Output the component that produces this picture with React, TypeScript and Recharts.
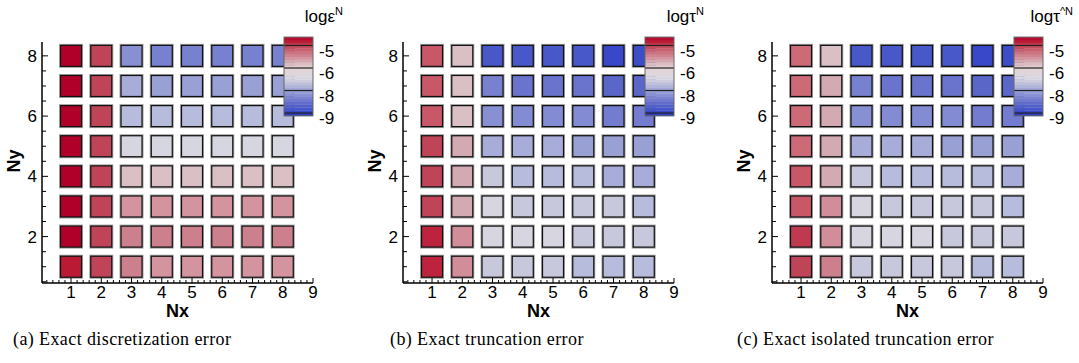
import { Scatter, ScatterChart, XAxis, YAxis } from "recharts";

const nxValues = [1, 2, 3, 4, 5, 6, 7, 8];
const nyValues = [1, 2, 3, 4, 5, 6, 7, 8];

// log10 error per cell; one row per Ny (Ny = 1 first), one entry per Nx
const discretizationError = [
  [-4.8, -5.0, -5.4, -5.55, -5.55, -5.55, -5.55, -5.55],
  [-4.6, -5.0, -5.4, -5.4, -5.4, -5.4, -5.4, -5.4],
  [-4.6, -5.0, -5.55, -5.55, -5.55, -5.55, -5.55, -5.55],
  [-4.6, -5.0, -5.85, -5.85, -5.85, -5.85, -5.85, -5.85],
  [-4.6, -5.0, -7.0, -7.0, -7.0, -7.0, -7.0, -7.0],
  [-4.6, -5.0, -7.5, -7.5, -7.5, -7.5, -7.5, -7.5],
  [-4.6, -5.0, -7.8, -8.0, -8.0, -8.0, -8.0, -8.0],
  [-4.6, -5.0, -8.2, -8.35, -8.35, -8.35, -8.35, -8.35],
];

const truncationError = [
  [-4.85, -5.5, -7.2, -7.2, -7.2, -7.5, -7.5, -7.5],
  [-4.85, -5.5, -6.95, -6.95, -6.95, -7.2, -7.2, -7.2],
  [-5.0, -5.7, -6.95, -7.2, -7.2, -7.2, -7.2, -7.5],
  [-5.0, -5.7, -7.2, -7.5, -7.5, -7.5, -7.8, -7.8],
  [-5.0, -5.7, -7.8, -7.8, -7.8, -8.0, -8.0, -8.0],
  [-5.15, -5.85, -8.2, -8.25, -8.25, -8.25, -8.4, -8.4],
  [-5.15, -5.85, -8.35, -8.5, -8.5, -8.5, -8.6, -8.6],
  [-5.15, -5.85, -8.8, -8.8, -8.8, -8.8, -8.95, -8.9],
];

const isolatedTruncationError = [
  [-5.0, -5.4, -7.2, -7.2, -7.2, -7.2, -7.5, -7.5],
  [-4.95, -5.5, -6.95, -6.95, -6.95, -7.2, -7.2, -7.2],
  [-5.15, -5.5, -6.95, -7.2, -7.2, -7.2, -7.2, -7.5],
  [-5.15, -5.7, -7.2, -7.5, -7.5, -7.5, -7.5, -7.8],
  [-5.25, -5.7, -7.8, -7.8, -7.8, -8.0, -8.0, -8.0],
  [-5.25, -5.7, -8.2, -8.25, -8.25, -8.25, -8.4, -8.4],
  [-5.25, -5.7, -8.35, -8.5, -8.5, -8.5, -8.6, -8.6],
  [-5.25, -5.85, -8.8, -8.8, -8.8, -8.8, -8.95, -8.9],
];

const xTickLabels = [1, 2, 3, 4, 5, 6, 7, 8, 9];
const yTickLabels = [2, 4, 6, 8];
const legendLevels = [-5, -6, -8, -9];

// diverging blue-white-red map, keyed by log value
const colorStops: [number, string][] = [
  [-9.2, "#2232b8"],
  [-8.95, "#3848c8"],
  [-8.8, "#4858c8"],
  [-8.6, "#5a66c8"],
  [-8.5, "#6a74cc"],
  [-8.35, "#7880d0"],
  [-8.2, "#8890d4"],
  [-8.0, "#98a0d4"],
  [-7.8, "#a8acd8"],
  [-7.5, "#b8bcdc"],
  [-7.2, "#c8c8dc"],
  [-7.0, "#d6d6e0"],
  [-6.0, "#e4d4d6"],
  [-5.85, "#dac0c5"],
  [-5.7, "#d4aab2"],
  [-5.55, "#d4949f"],
  [-5.4, "#cc7f8c"],
  [-5.25, "#cc6a78"],
  [-5.15, "#c85868"],
  [-5.0, "#c04458"],
  [-4.8, "#bb1a35"],
  [-4.6, "#b0002a"],
];

function hexToRgb(h: string) {
  return [1, 3, 5].map((i) => parseInt(h.slice(i, i + 2), 16));
}

function colorFor(v: number): string {
  if (v <= colorStops[0][0]) return colorStops[0][1];
  for (let i = 1; i < colorStops.length; i++) {
    const [v1, c1] = colorStops[i];
    if (v <= v1) {
      const [v0, c0] = colorStops[i - 1];
      const t = (v - v0) / (v1 - v0);
      const a = hexToRgb(c0);
      const b = hexToRgb(c1);
      const rgb = a.map((x, k) => Math.round(x + (b[k] - x) * t));
      return `rgb(${rgb.join(",")})`;
    }
  }
  return colorStops[colorStops.length - 1][1];
}

// colour bar is piecewise: -9..-8, -8..-6, -6..-5 each take one segment
function levelToSegment(v: number): number {
  if (v <= -8) return v + 9;
  if (v <= -6) return 1 + (v + 8) / 2;
  return 2 + (v + 6);
}
function segmentToLevel(s: number): number {
  if (s <= 1) return s - 9;
  if (s <= 2) return -8 + (s - 1) * 2;
  return -6 + (s - 2);
}

const FONT = "'Liberation Sans', Arial, Helvetica, sans-serif";
const SERIF = "'Liberation Serif', 'DejaVu Serif', serif";
const PLOT_W = 271;
const PLOT_TOP = 42;

type PanelSpec = {
  values: number[][];
  axisX: number;
  title: string;
  sup: string;
  caption: string;
  captionX: number;
};

const panels: PanelSpec[] = [
  { values: discretizationError, axisX: 42, title: "logε", sup: "N", caption: "(a) Exact discretization error", captionX: 13 },
  { values: truncationError, axisX: 403, title: "logτ", sup: "N", caption: "(b) Exact truncation error", captionX: 390 },
  { values: isolatedTruncationError, axisX: 772, title: "logτ", sup: "^N", caption: "(c) Exact isolated truncation error", captionX: 737 },
];

const xTicks: number[] = [];
for (let i = 1; i <= 45; i++) xTicks.push(Math.round(i * 2) / 10);
const yTicks: number[] = [];
for (let i = 1; i <= 16; i++) yTicks.push(i / 2);

function XTick(props: any) {
  const { x, y, payload } = props;
  const v = payload.value as number;
  const major = xTickLabels.some((t) => Math.abs(t - v) < 1e-6);
  return (
    <g>
      <line x1={x} x2={x} y1={y} y2={y - (major ? 5 : 3)} stroke="#000" strokeWidth={1} />
      {major && (
        <text x={x} y={y + 15} textAnchor="middle" fontSize={17} fontFamily={FONT} fill="#000">
          {Math.round(v)}
        </text>
      )}
    </g>
  );
}

function YTick(props: any) {
  const { x, y, payload } = props;
  const v = payload.value as number;
  const major = yTickLabels.includes(v);
  return (
    <g>
      <line x1={x} x2={x + (major ? 6 : 4)} y1={y} y2={y} stroke="#000" strokeWidth={1} />
      {major && (
        <text x={x - 5} y={y + 6} textAnchor="end" fontSize={17} fontFamily={FONT} fill="#000">
          {v}
        </text>
      )}
    </g>
  );
}

function SquareMarker(props: any) {
  const { cx, cy, payload } = props;
  const s = 21;
  return (
    <g>
      <rect x={cx - s / 2 - 0.5} y={cy - s / 2 - 0.5} width={s + 1} height={s + 1} fill="none" stroke="#a0a0a0" strokeWidth={2} />
      <rect x={cx - s / 2} y={cy - s / 2} width={s} height={s} fill={colorFor(payload.v)} stroke="#111" strokeWidth={1.2} />
    </g>
  );
}

function Panel({ spec }: { spec: PanelSpec }) {
  const points = nyValues.flatMap((y, r) => nxValues.map((x, c) => ({ x, y, v: spec.values[r][c] })));
  return (
    <div style={{ position: "absolute", left: spec.axisX - 40, top: 0 }}>
      <ScatterChart width={40 + PLOT_W + 10} height={363} margin={{ top: PLOT_TOP, right: 10, bottom: 40, left: 0 }}>
        <XAxis
          type="number"
          dataKey="x"
          domain={[0.04, 9]}
          allowDataOverflow
          ticks={xTicks}
          interval={0}
          tickSize={0}
          tickMargin={0}
          tickLine={false}
          tick={XTick}
          height={40}
          axisLine={{ stroke: "#000", strokeWidth: 1.5 }}
        />
        <YAxis
          type="number"
          dataKey="y"
          domain={[0.46, 8.46]}
          allowDataOverflow
          ticks={yTicks}
          interval={0}
          tickSize={0}
          tickMargin={0}
          tickLine={false}
          tick={YTick}
          width={40}
          axisLine={{ stroke: "#000", strokeWidth: 1.5 }}
        />
        <Scatter data={points} shape={SquareMarker} isAnimationActive={false} />
      </ScatterChart>
    </div>
  );
}

function ColorBar({ spec }: { spec: PanelSpec }) {
  const right = spec.axisX + PLOT_W;
  const x0 = right - 29;
  const yOf = (s: number) => 113 - 22.5 * s;
  const bands: JSX.Element[] = [];
  const step = 0.125;
  for (let s = -0.125; s < 3.37; s += step) {
    bands.push(
      <rect key={s} x={x0} y={yOf(s + step)} width={29} height={22.5 * step + 0.3} fill={colorFor(segmentToLevel(s + step / 2))} />
    );
  }
  return (
    <g>
      {bands}
      {legendLevels.map((lv) => {
        const y = yOf(levelToSegment(lv));
        return (
          <g key={lv}>
            <line x1={x0} x2={x0 + 29} y1={y} y2={y} stroke="#222" strokeWidth={1.2} />
            <text x={right + 6} y={y + 11} fontSize={17} fontFamily={FONT} fill="#000">
              {lv}
            </text>
          </g>
        );
      })}
      <rect x={x0} y={yOf(3.375)} width={29} height={22.5 * 3.5} fill="none" stroke="#666" strokeWidth={1} />
      <text x={right + 30} y={22} textAnchor="end" fontSize={17} fontFamily={FONT} fill="#000">
        {spec.title}
        <tspan fontSize={11} dy={-7}>{spec.sup}</tspan>
      </text>
    </g>
  );
}

export default function App() {
  return (
    <div style={{ position: "absolute", left: 0, top: 0, width: 1079, height: 363, background: "#fff", overflow: "hidden" }}>
      {panels.map((p, i) => (
        <Panel key={i} spec={p} />
      ))}
      <svg width={1079} height={363} style={{ position: "absolute", left: 0, top: 0, pointerEvents: "none" }}>
        {panels.map((p, i) => (
          <g key={i}>
            <ColorBar spec={p} />
            <text x={p.axisX + PLOT_W / 2} y={317} textAnchor="middle" fontSize={18} fontWeight="bold" fontFamily={FONT}>
              Nx
            </text>
            <text
              transform={`translate(${p.axisX - 22}, ${161}) rotate(-90)`}
              textAnchor="middle"
              fontSize={18}
              fontWeight="bold"
              fontFamily={FONT}
            >
              Ny
            </text>
            <text x={p.captionX} y={345} fontSize={18} letterSpacing={0.4} fontFamily={SERIF} fill="#000">
              {p.caption}
            </text>
          </g>
        ))}
      </svg>
    </div>
  );
}
